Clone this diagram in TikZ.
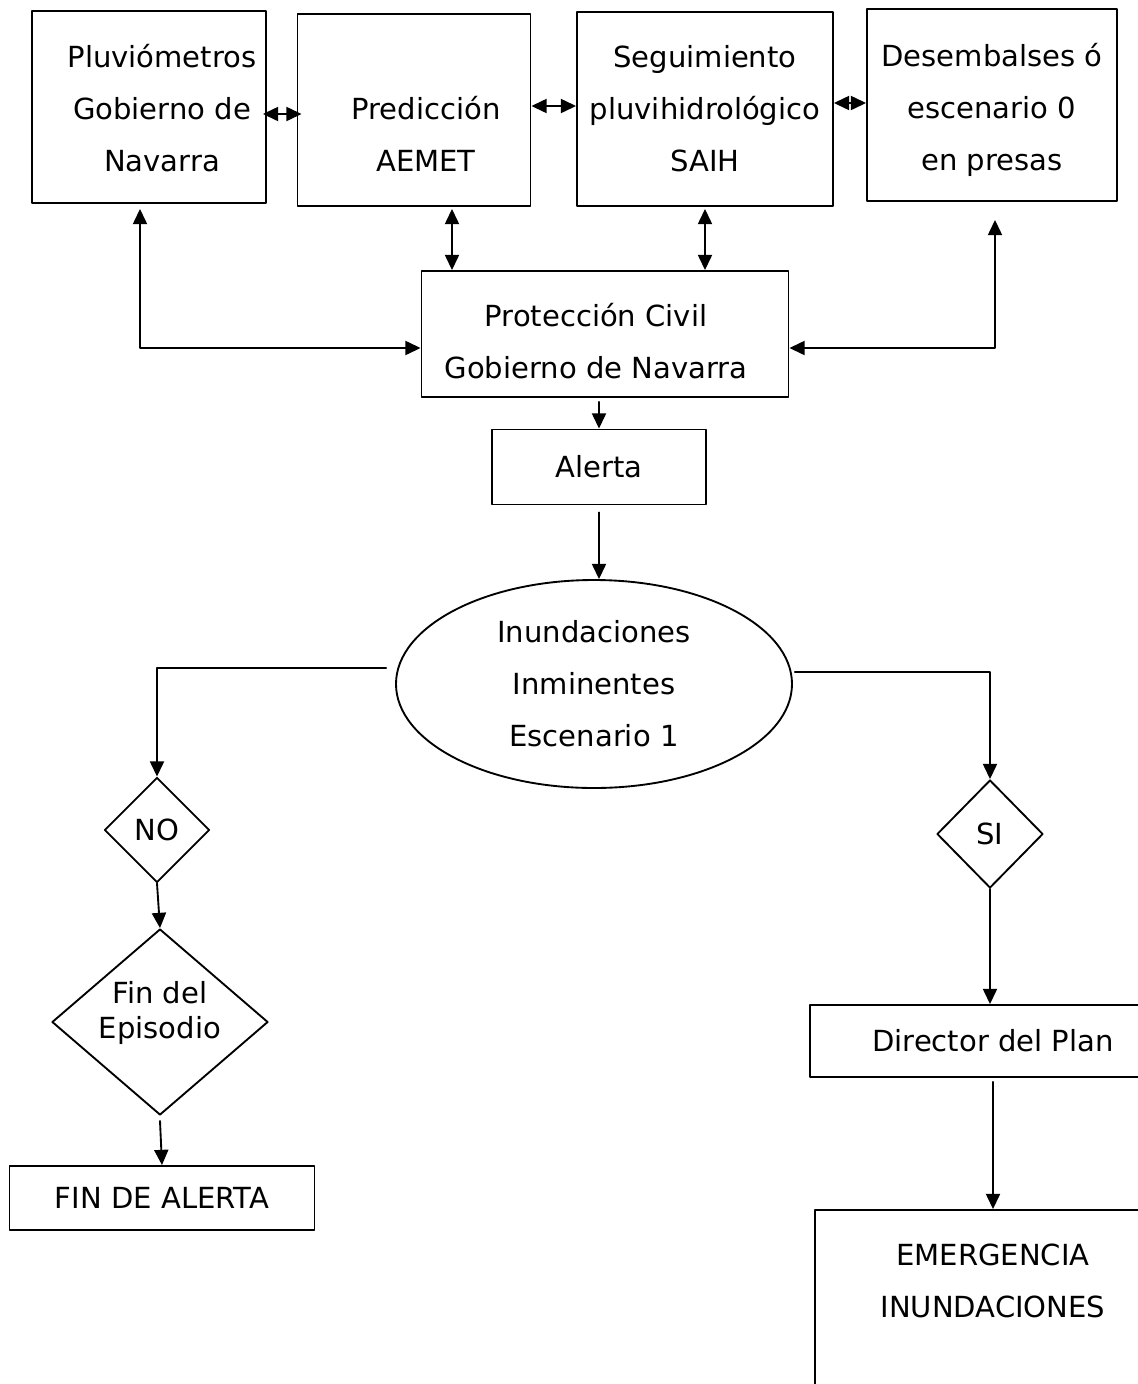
\documentclass[tikz,border=0pt]{standalone}
\usepackage{fontspec}
\setmainfont{DejaVu Sans}
\usetikzlibrary{arrows.meta,shapes.geometric}
\newcommand{\pxu}{0.015cm}

\begin{document}
\begin{tikzpicture}[line cap=round,line join=round,>={Triangle[length=6.5pt,width=6pt]},x=0.015cm,y=-0.015cm,line width=0.8pt,
  every node/.style={font=\fontsize{12.4}{22.2}\selectfont,inner sep=0pt,align=center},
  caja/.style={draw,rectangle},
  rombo/.style={draw,diamond}]
\useasboundingbox (0,0) rectangle (1138,1384);
\clip (0,0) rectangle (1138,1384);
% fila superior
\node[caja,minimum width=234*\pxu,minimum height=192*\pxu] (pluv) at (149,107) {};
\node (pluvtxt) at (162,108) {Pluviómetros\\Gobierno de\\Navarra};
\node[caja,minimum width=233*\pxu,minimum height=192*\pxu] (pred) at (414,110) {};
\node (predtxt) at (426,134) {Predicción\\AEMET};
\node[caja,minimum width=256*\pxu,minimum height=194*\pxu] (saih) at (705,109) {Seguimiento\\pluvihidrológico\\SAIH};
\node[caja,minimum width=250*\pxu,minimum height=192*\pxu] (presas) at (992,105) {};
\node (presastxt) at (992,110) {Desembalses ó\\escenario 0\\en presas};
% centro
\node[caja,minimum width=367*\pxu,minimum height=126*\pxu] (pcivil) at (605,334) {};
\node (pciviltxt) at (596,341) {Protección Civil\\Gobierno de Navarra};
\node[caja,minimum width=214*\pxu,minimum height=75*\pxu] (alerta) at (599,467) {Alerta};
\node[draw,ellipse,minimum width=396*\pxu,minimum height=208*\pxu] (inund) at (594,684) {Inundaciones\\Inminentes\\Escenario 1};
% rama NO
\node[rombo,minimum width=105*\pxu,minimum height=105*\pxu] (no) at (157,830) {NO};
\node[rombo,aspect=1.15,minimum width=216*\pxu,minimum height=186*\pxu] (findel) at (160,1022) {};
\node[font=\fontsize{12.4}{15}\selectfont] (findeltxt) at (160,1013) {Fin del\\Episodio};
\node[caja,minimum width=305*\pxu,minimum height=64*\pxu] (finalerta) at (162,1198) {FIN DE ALERTA};
% rama SI
\node[rombo,minimum width=106*\pxu,minimum height=108*\pxu] (si) at (990,834) {SI};
\node[caja,minimum width=366*\pxu,minimum height=72*\pxu] (director) at (993,1041) {Director del Plan};
\node[caja,minimum width=356*\pxu,minimum height=194*\pxu] (emergencia) at (993,1307) {};
\node (emergenciatxt) at (993,1281) {EMERGENCIA\\INUNDACIONES};
% conexiones
\draw[<->] ([xshift=-4*\pxu,yshift=-7*\pxu]pluv.east) -- ([xshift=5*\pxu,yshift=-7*\pxu]pluv.east -| pred.west);
\draw[<->] ([yshift=4*\pxu]pred.east) -- ([yshift=4*\pxu]pred.east -| saih.west);
\draw[<->] ([yshift=6*\pxu]saih.east) -- ([yshift=6*\pxu]saih.east -| presas.west);
\draw[<->] ([xshift=38*\pxu,yshift=-2*\pxu]pred.south) -- ([xshift=38*\pxu]pred.south |- pcivil.north);
\draw[<->] ([yshift=-2*\pxu]saih.south) -- (saih.south |- pcivil.north);
\draw[<->] ([xshift=-9*\pxu,yshift=-5*\pxu]pluv.south) |- ([yshift=-14*\pxu]pcivil.west);
\draw[<->] ([xshift=3*\pxu,yshift=-18*\pxu]presas.south) |- ([yshift=-14*\pxu]pcivil.east);
\draw[->] ([yshift=-4*\pxu]pcivil.south -| alerta.north) -- (alerta.north);
\draw[->] ([yshift=-7*\pxu]alerta.south) -- (alerta.south |- inund.north);
\draw[->] ([xshift=-9*\pxu,yshift=16*\pxu]inund.west) -| (no.north);
\draw[->] ([xshift=2*\pxu,yshift=12*\pxu]inund.east) -| (si.north);
\draw[->] (no.south) -- (findel.north);
\draw[->] ([yshift=-5*\pxu]findel.south) -- (finalerta.north);
\draw[->] (si.south) -- (si.south |- director.north);
\draw[->] ([yshift=-4*\pxu]director.south) -- (director.south |- emergencia.north);
\end{tikzpicture}
\end{document}
